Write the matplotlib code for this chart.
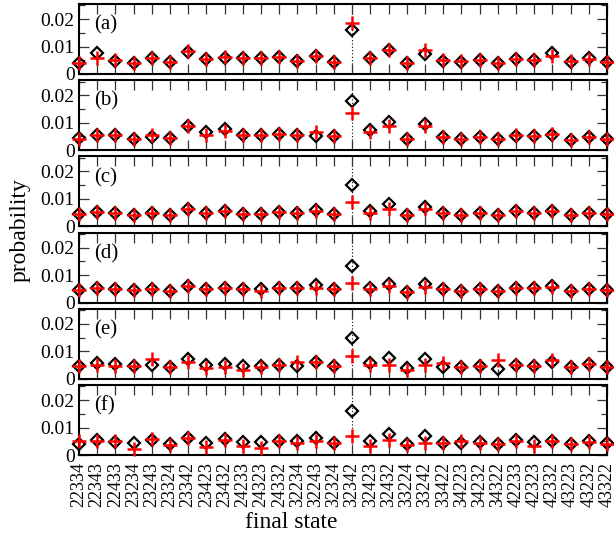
import numpy as np
import matplotlib
matplotlib.use('Agg')
import matplotlib.pyplot as plt
from matplotlib.ticker import MultipleLocator

plt.rcParams['font.family'] = ['Liberation Serif', 'DejaVu Serif']

states = ['22334', '22343', '22433', '23234', '23243', '23324', '23342', '23423', '23432', '24233',
          '24323', '24332', '32234', '32243', '32324', '32342', '32423', '32432', '33224', '33242',
          '33422', '34223', '34232', '34322', '42233', '42323', '42332', '43223', '43232', '43322']
panel_tags = ['(a)', '(b)', '(c)', '(d)', '(e)', '(f)']
ytick_vals = [0, 0.01, 0.02]
ytick_labels = ['0', '0.01', '0.02']

# black diamonds
dia_a = [0.0039, 0.0075, 0.0048, 0.0039, 0.0060, 0.0042, 0.0081, 0.0054, 0.0060, 0.0059,
         0.0058, 0.0063, 0.0048, 0.0066, 0.0045, 0.0161, 0.0060, 0.0087, 0.0041, 0.0072,
         0.0048, 0.0045, 0.0051, 0.0041, 0.0054, 0.0051, 0.0075, 0.0045, 0.0060, 0.0045]
dia_b = [0.0046, 0.0054, 0.0057, 0.0042, 0.0048, 0.0045, 0.0088, 0.0066, 0.0078, 0.0057,
         0.0054, 0.0060, 0.0054, 0.0051, 0.0051, 0.0181, 0.0075, 0.0102, 0.0039, 0.0096,
         0.0048, 0.0039, 0.0048, 0.0039, 0.0051, 0.0051, 0.0054, 0.0036, 0.0048, 0.0039]
dia_c = [0.0044, 0.0054, 0.0048, 0.0042, 0.0050, 0.0042, 0.0064, 0.0048, 0.0056, 0.0046,
         0.0046, 0.0052, 0.0048, 0.0060, 0.0046, 0.0149, 0.0056, 0.0080, 0.0042, 0.0071,
         0.0048, 0.0042, 0.0048, 0.0040, 0.0056, 0.0050, 0.0056, 0.0042, 0.0048, 0.0044]
dia_d = [0.0046, 0.0054, 0.0051, 0.0045, 0.0051, 0.0042, 0.0060, 0.0048, 0.0054, 0.0048,
         0.0048, 0.0054, 0.0054, 0.0063, 0.0048, 0.0133, 0.0054, 0.0069, 0.0039, 0.0066,
         0.0048, 0.0042, 0.0048, 0.0042, 0.0054, 0.0054, 0.0060, 0.0042, 0.0051, 0.0046]
dia_e = [0.0046, 0.0056, 0.0054, 0.0046, 0.0050, 0.0042, 0.0071, 0.0050, 0.0054, 0.0046,
         0.0046, 0.0050, 0.0046, 0.0060, 0.0046, 0.0149, 0.0056, 0.0076, 0.0038, 0.0071,
         0.0044, 0.0042, 0.0048, 0.0036, 0.0050, 0.0048, 0.0060, 0.0042, 0.0054, 0.0044]
dia_f = [0.0041, 0.0053, 0.0048, 0.0045, 0.0054, 0.0039, 0.0063, 0.0045, 0.0057, 0.0047,
         0.0047, 0.0051, 0.0051, 0.0063, 0.0045, 0.0159, 0.0051, 0.0077, 0.0039, 0.0069,
         0.0045, 0.0045, 0.0048, 0.0039, 0.0053, 0.0048, 0.0051, 0.0039, 0.0051, 0.0042]

# red plus
plus_a = [0.0039, 0.0057, 0.0050, 0.0039, 0.0057, 0.0042, 0.0084, 0.0056, 0.0063, 0.0059,
          0.0059, 0.0061, 0.0048, 0.0065, 0.0045, 0.0186, 0.0060, 0.0089, 0.0041, 0.0089,
          0.0050, 0.0047, 0.0051, 0.0041, 0.0054, 0.0051, 0.0065, 0.0047, 0.0053, 0.0045]
plus_b = [0.0042, 0.0054, 0.0054, 0.0042, 0.0054, 0.0045, 0.0088, 0.0054, 0.0070, 0.0054,
          0.0054, 0.0058, 0.0054, 0.0066, 0.0051, 0.0136, 0.0066, 0.0087, 0.0039, 0.0087,
          0.0048, 0.0039, 0.0048, 0.0039, 0.0054, 0.0051, 0.0060, 0.0036, 0.0048, 0.0039]
plus_c = [0.0044, 0.0054, 0.0048, 0.0042, 0.0050, 0.0042, 0.0062, 0.0048, 0.0056, 0.0046,
          0.0046, 0.0052, 0.0048, 0.0056, 0.0046, 0.0088, 0.0050, 0.0064, 0.0042, 0.0064,
          0.0048, 0.0042, 0.0048, 0.0040, 0.0056, 0.0050, 0.0056, 0.0042, 0.0048, 0.0044]
plus_d = [0.0046, 0.0054, 0.0051, 0.0045, 0.0051, 0.0042, 0.0060, 0.0048, 0.0054, 0.0048,
          0.0042, 0.0054, 0.0054, 0.0054, 0.0048, 0.0072, 0.0051, 0.0060, 0.0039, 0.0058,
          0.0048, 0.0042, 0.0048, 0.0042, 0.0054, 0.0054, 0.0058, 0.0042, 0.0051, 0.0046]
plus_e = [0.0046, 0.0050, 0.0046, 0.0046, 0.0071, 0.0042, 0.0060, 0.0038, 0.0042, 0.0032,
          0.0044, 0.0050, 0.0060, 0.0060, 0.0046, 0.0082, 0.0050, 0.0052, 0.0032, 0.0050,
          0.0056, 0.0042, 0.0048, 0.0068, 0.0050, 0.0048, 0.0068, 0.0042, 0.0054, 0.0044]
plus_f = [0.0051, 0.0051, 0.0051, 0.0023, 0.0059, 0.0036, 0.0061, 0.0030, 0.0055, 0.0033,
          0.0027, 0.0051, 0.0045, 0.0051, 0.0045, 0.0069, 0.0033, 0.0054, 0.0036, 0.0045,
          0.0045, 0.0051, 0.0045, 0.0039, 0.0051, 0.0033, 0.0051, 0.0039, 0.0048, 0.0039]

diamonds = [dia_a, dia_b, dia_c, dia_d, dia_e, dia_f]
pluses = [plus_a, plus_b, plus_c, plus_d, plus_e, plus_f]

W, H = 614, 541
fig = plt.figure(figsize=(W / 100, H / 100), dpi=100)
x = np.arange(len(states))
left, right = 79, 607
step = 76.2
ph = 70

axs = []
for i in range(6):
    bot = 74 + i * step
    ax = fig.add_axes([left / W, 1 - bot / H, (right - left) / W, ph / H])
    ax.axvline(15, color='black', lw=0.8, linestyle=(0, (1, 2)), zorder=1)
    ax.plot(x, diamonds[i], linestyle='none', marker='D', ms=6.5, mfc='none',
            mec='black', mew=1.6, zorder=3, clip_on=False)
    ax.plot(x, pluses[i], linestyle='none', marker='+', ms=9.5, mec='red',
            mew=1.8, zorder=4, clip_on=False)
    ax.set_xlim(0, len(states) - 1)
    ax.set_ylim(0, 0.0255)
    ax.set_xticks(x)
    ax.set_yticks(ytick_vals)
    ax.yaxis.set_minor_locator(MultipleLocator(0.005))
    ax.set_yticklabels(ytick_labels, fontsize=14)
    ax.tick_params(axis='both', which='both', direction='in', top=True, right=True,
                   width=0.9, color='#333333')
    ax.tick_params(axis='x', which='major', length=7.5, pad=5)
    ax.tick_params(axis='y', which='major', length=7.5, pad=3)
    ax.tick_params(axis='y', which='minor', length=4)
    for sp in ax.spines.values():
        sp.set_linewidth(1.5)
    ax.text(0.028, 0.7, panel_tags[i], transform=ax.transAxes, fontsize=15, va='center', ha='left')
    if i < 5:
        ax.set_xticklabels([])
    else:
        ax.set_xticklabels(states, rotation=90, fontsize=13)
    axs.append(ax)

fig.text(20 / W, 1 - 230 / H, 'probability', rotation=90, fontsize=17, ha='center', va='center')
fig.text(291 / W, 1 - 523 / H, 'final state', fontsize=17, ha='center', va='center')

plt.savefig('out.png', dpi=100)
